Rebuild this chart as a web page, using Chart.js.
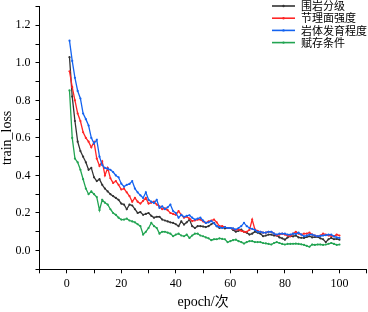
<!DOCTYPE html>
<html>
<head>
<meta charset="utf-8">
<script src="https://cdn.jsdelivr.net/npm/chart.js@4/dist/chart.umd.min.js"></script>
<style>
html,body{margin:0;padding:0;background:#fff;}
#c{display:block;}
</style>
</head>
<body>
<canvas id="c" width="368" height="312"></canvas>
<script>
const seriesNames = ['围岩分级', '节理面强度', '岩体发育程度', '赋存条件'];
const epochs = [1,2,3,4,5,6,7,8,9,10,11,12,13,14,15,16,17,18,19,20,21,22,23,24,25,26,27,28,29,30,31,32,33,34,35,36,37,38,39,40,41,42,43,44,45,46,47,48,49,50,51,52,53,54,55,56,57,58,59,60,61,62,63,64,65,66,67,68,69,70,71,72,73,74,75,76,77,78,79,80,81,82,83,84,85,86,87,88,89,90,91,92,93,94,95,96,97,98,99,100];
const lossGrade = [1.03,0.82,0.69,0.58,0.53,0.50,0.47,0.43,0.44,0.39,
  0.37,0.38,0.35,0.33,0.315,0.30,0.29,0.28,0.27,0.25,
  0.245,0.22,0.245,0.24,0.22,0.20,0.205,0.19,0.195,0.20,
  0.185,0.175,0.18,0.18,0.165,0.16,0.155,0.15,0.147,0.14,
  0.13,0.155,0.138,0.15,0.165,0.13,0.12,0.13,0.13,0.128,
  0.125,0.13,0.14,0.147,0.13,0.12,0.125,0.118,0.12,0.12,
  0.11,0.10,0.105,0.112,0.10,0.095,0.085,0.09,0.10,0.095,
  0.09,0.076,0.08,0.085,0.085,0.08,0.08,0.07,0.065,0.058,
  0.07,0.076,0.075,0.08,0.07,0.068,0.067,0.072,0.076,0.07,
  0.072,0.072,0.065,0.06,0.045,0.06,0.067,0.06,0.062,0.058];
const lossJoint = [0.955,0.87,0.80,0.73,0.69,0.63,0.60,0.58,0.55,0.578,
  0.49,0.45,0.475,0.40,0.44,0.385,0.36,0.37,0.35,0.325,
  0.33,0.31,0.29,0.26,0.28,0.26,0.25,0.265,0.28,0.25,
  0.255,0.26,0.245,0.235,0.22,0.225,0.215,0.20,0.195,0.19,
  0.21,0.19,0.175,0.18,0.17,0.157,0.16,0.165,0.165,0.155,
  0.147,0.155,0.16,0.165,0.15,0.13,0.13,0.125,0.12,0.12,
  0.115,0.11,0.112,0.105,0.10,0.10,0.11,0.165,0.112,0.105,
  0.10,0.095,0.095,0.10,0.10,0.09,0.08,0.085,0.09,0.085,
  0.08,0.076,0.09,0.10,0.09,0.085,0.09,0.09,0.095,0.085,
  0.08,0.076,0.08,0.09,0.085,0.08,0.078,0.076,0.085,0.08];
const lossDevelop = [1.118,1.01,0.92,0.85,0.81,0.73,0.70,0.666,0.60,0.57,
  0.59,0.50,0.455,0.44,0.436,0.43,0.418,0.40,0.39,0.356,
  0.34,0.35,0.355,0.37,0.33,0.31,0.294,0.28,0.31,0.27,
  0.26,0.253,0.27,0.227,0.235,0.22,0.23,0.245,0.21,0.20,
  0.175,0.19,0.18,0.185,0.188,0.175,0.165,0.17,0.175,0.16,
  0.147,0.15,0.157,0.145,0.13,0.125,0.12,0.125,0.12,0.12,
  0.118,0.112,0.12,0.13,0.147,0.13,0.12,0.115,0.11,0.10,
  0.10,0.095,0.095,0.10,0.10,0.09,0.085,0.09,0.09,0.09,
  0.085,0.085,0.09,0.088,0.095,0.085,0.076,0.08,0.085,0.085,
  0.08,0.076,0.078,0.08,0.082,0.085,0.085,0.075,0.07,0.067];
const lossOccur = [0.853,0.60,0.49,0.47,0.43,0.38,0.33,0.30,0.315,0.30,
  0.285,0.215,0.27,0.255,0.245,0.22,0.20,0.19,0.175,0.165,
  0.165,0.17,0.16,0.155,0.15,0.14,0.13,0.085,0.10,0.12,
  0.147,0.13,0.12,0.09,0.10,0.10,0.095,0.09,0.076,0.085,
  0.09,0.08,0.076,0.085,0.067,0.08,0.09,0.09,0.08,0.076,
  0.07,0.065,0.055,0.06,0.06,0.065,0.062,0.06,0.044,0.05,
  0.055,0.058,0.05,0.045,0.037,0.045,0.05,0.05,0.045,0.045,
  0.045,0.04,0.038,0.035,0.032,0.04,0.045,0.04,0.035,0.032,
  0.035,0.035,0.036,0.037,0.035,0.033,0.03,0.025,0.02,0.032,
  0.03,0.032,0.032,0.03,0.032,0.036,0.04,0.035,0.03,0.032];
const seriesColors = ['#333333', '#ff2626', '#1463f0', '#22a452'];

const allSeries = [lossGrade, lossJoint, lossDevelop, lossOccur];
const datasets = allSeries.map((vals, k) => ({
  label: seriesNames[k],
  data: epochs.map((e, i) => ({x: e, y: vals[i]})),
  borderColor: seriesColors[k],
  backgroundColor: seriesColors[k],
  borderWidth: 1.3,
  pointRadius: 1.1,
  pointBorderWidth: 0,
  pointHoverRadius: 1.1,
  tension: 0,
  fill: false,
  order: 4 - k
}));

const serif = '"Liberation Serif", "Noto Sans CJK SC", serif';

const legendPlugin = {
  id: 'customLegend',
  afterDatasetsDraw(chart) {
    const ctx = chart.ctx;
    ctx.save();
    const x0 = 272, x1 = 295, tx = 301, y0 = 6, dy = 12.2;
    chart.data.datasets.forEach((ds, i) => {
      const y = y0 + i * dy;
      ctx.strokeStyle = ds.borderColor;
      ctx.lineWidth = 1.6;
      ctx.beginPath();
      ctx.moveTo(x0, y);
      ctx.lineTo(x1, y);
      ctx.stroke();
      ctx.fillStyle = ds.borderColor;
      ctx.beginPath();
      ctx.arc((x0 + x1) / 2, y, 1.2, 0, Math.PI * 2);
      ctx.fill();
      ctx.fillStyle = '#000';
      ctx.font = '11px "Noto Sans CJK SC"';
      ctx.textBaseline = 'middle';
      ctx.textAlign = 'left';
      ctx.fillText(ds.label, tx, y);
    });
    ctx.restore();
  }
};

new Chart(document.getElementById('c'), {
  type: 'line',
  data: { datasets },
  plugins: [legendPlugin],
  options: {
    responsive: false,
    animation: false,
    devicePixelRatio: 1,
    layout: { padding: { top: 6.5, right: 1.3, left: 0, bottom: 0 } },
    plugins: { legend: { display: false }, tooltip: { enabled: false } },
    scales: {
      x: {
        type: 'linear',
        min: -10, max: 110,
        afterFit: s => { s.height = 42.7; s.paddingLeft = 0; s.paddingRight = 0; s.paddingTop = 0; s.paddingBottom = 0; },
        border: { display: true, color: '#000', width: 1 },
        grid: { drawOnChartArea: false, drawTicks: true, tickLength: 4, tickColor: '#000', tickWidth: 1 },
        ticks: {
          stepSize: 10, autoSkip: false, maxRotation: 0, padding: 3,
          color: '#000', font: { family: serif, size: 12 },
          callback: v => (v % 20 === 0 && v >= 0 && v <= 100) ? String(v) : ''
        },
        title: { display: true, text: 'epoch/次', color: '#000', font: { family: serif, size: 14, lineHeight: 1 }, padding: { top: 0, bottom: 3 } }
      },
      y: {
        type: 'linear',
        min: -0.1, max: 1.3,
        afterFit: s => { s.width = 39.5; s.paddingTop = 0; s.paddingBottom = 0; s.paddingLeft = 0; s.paddingRight = 0; },
        border: { display: true, color: '#000', width: 1 },
        grid: { drawOnChartArea: false, drawTicks: true, tickLength: 4, tickColor: '#000', tickWidth: 1 },
        ticks: {
          stepSize: 0.1, autoSkip: false, padding: 5,
          color: '#000', font: { family: serif, size: 12 },
          callback: v => { const r = Math.round(v * 10); return (r % 2 === 0 && r >= 0 && r <= 12) ? (r / 10).toFixed(1) : ''; }
        },
        title: { display: true, text: 'train_loss', color: '#000', font: { family: serif, size: 14, lineHeight: 1 }, padding: { top: 0, bottom: 0 } }
      }
    }
  }
});
</script>
</body>
</html>
